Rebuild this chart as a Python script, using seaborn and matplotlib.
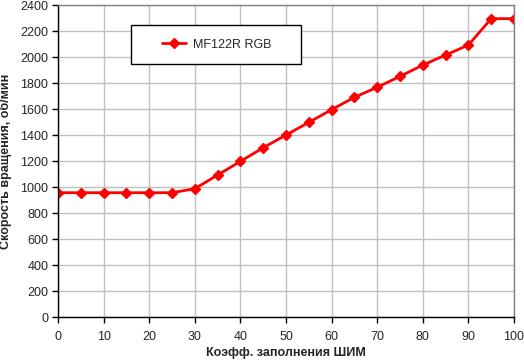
import matplotlib
matplotlib.use("Agg")
import matplotlib.pyplot as plt
from matplotlib.patches import Rectangle
import seaborn as sns
import pandas as pd

pwm = [0, 5, 10, 15, 20, 25, 30, 35, 40, 45, 50, 55, 60, 65, 70, 75, 80, 85, 90, 95, 100]
rpm = [956, 956, 956, 956, 956, 956, 987, 1092, 1197, 1302, 1400, 1497, 1595, 1690, 1767, 1851, 1938, 2015, 2092, 2295, 2295]
series_name = "MF122R RGB"
x_label = "Коэфф. заполнения ШИМ"
y_label = "Скорость вращения, об/мин"

sns.set_style("white")
plt.rcParams['font.family'] = ['Liberation Sans', 'DejaVu Sans']

df = pd.DataFrame({"pwm": pwm, "rpm": rpm, "series": series_name})

fig = plt.figure(figsize=(5.24, 3.64), dpi=100)
ax = fig.add_axes([58/524, 1-317/364, 456/524, 312/364])

sns.lineplot(data=df, x="pwm", y="rpm", hue="series", palette=["#ff0000"],
             marker="D", markersize=5.5, markeredgecolor="#ff0000",
             markeredgewidth=1, linewidth=2, ax=ax)

ax.set_xlim(0, 100)
ax.set_ylim(0, 2400)
ax.set_xticks(range(0, 101, 10))
ax.set_yticks(range(0, 2401, 200))
ax.grid(True, color="#c0c0c0", linewidth=1)
ax.set_axisbelow(True)
for s in ["top", "right"]:
    ax.spines[s].set_color("#808080")
for s in ["left", "bottom"]:
    ax.spines[s].set_color("black")
for s in ax.spines.values():
    s.set_linewidth(1)
ax.tick_params(axis="y", direction="out", length=4, width=1, color="black",
               labelsize=9, pad=3, left=True)
ax.tick_params(axis="x", direction="out", length=4, width=1, color="black",
               labelsize=9, pad=6, bottom=True)
ax.set_xlabel(x_label, fontsize=9, fontweight="bold", labelpad=3)
ax.set_ylabel(y_label, fontsize=9, fontweight="bold", labelpad=6)

box = Rectangle((0.160, 0.811), 0.373, 0.125, transform=ax.transAxes,
                facecolor="white", edgecolor="black", linewidth=1, zorder=4,
                clip_on=False)
ax.add_patch(box)

leg = ax.legend(loc="center left", bbox_to_anchor=(0.228, 0.873),
                frameon=False, fontsize=9, handlelength=1.95,
                handletextpad=0.55, borderpad=0, borderaxespad=0, title=None)
leg.set_zorder(5)

fig.savefig("out.png", dpi=100)
